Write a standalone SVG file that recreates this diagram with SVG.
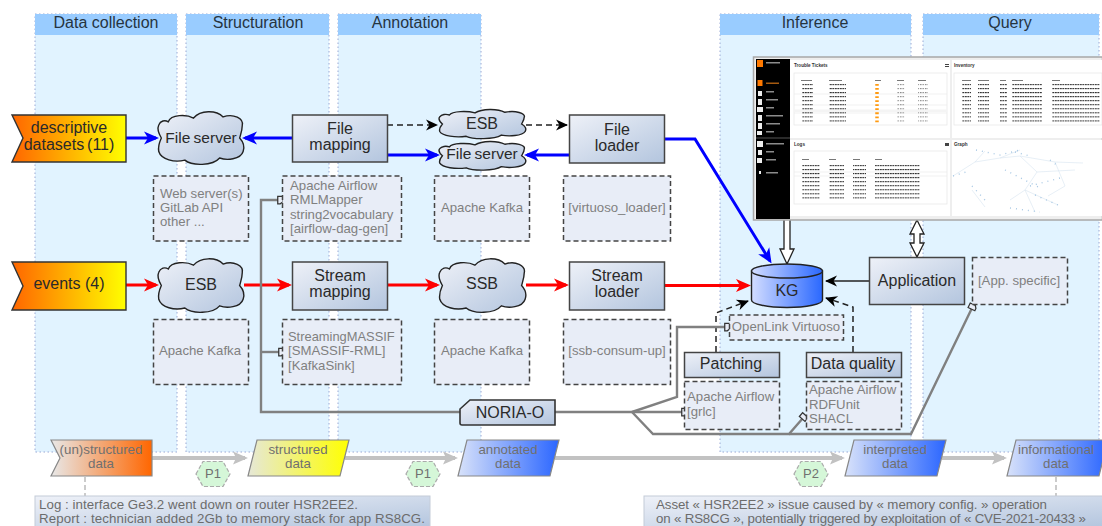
<svg xmlns="http://www.w3.org/2000/svg" width="1102" height="526" viewBox="0 0 1102 526">
<style>
text{font-family:"Liberation Sans",Arial,sans-serif;text-anchor:middle}
.lane{fill:#e1f3ff;stroke:#9aa8d4;stroke-width:1;stroke-dasharray:1.5 2.5}
.lh{fill:#99ccff}
.lt{font-size:16px;fill:#26343f}
.box{fill:url(#gb);stroke:#444;stroke-width:1.5}
.cloud{fill:url(#gb);stroke:#222;stroke-width:1.4;vector-effect:non-scaling-stroke}
.nt{font-size:16px;fill:#2a2a2a}
.nt.ws{font-size:15.5px;word-spacing:-1px}
.dash{fill:#e8edf7;stroke:#444;stroke-width:1.5;stroke-dasharray:5 3}
.dt{font-size:13.2px;fill:#808080}
.l{text-anchor:start}
.src{fill:url(#go);stroke:#333;stroke-width:1.4}
.data{stroke:#888;stroke-width:1.2}
.ddt{font-size:13.3px;fill:#707070}
.note{fill:url(#gb);stroke:#c4ccd8;stroke-width:1}
.ntxt{font-size:13.3px;fill:#6c6c6c;text-anchor:start}
.p{fill:#d5f7d8;stroke:#aaa;stroke-width:1.2;stroke-dasharray:4 2}
.c{fill:none}
.blue{stroke:#0000ff;stroke-width:3}
.red{stroke:#ff0000;stroke-width:3}
.blk{stroke:#222;stroke-width:1.5}
.gr{stroke:#808080;stroke-width:2.4}
.fl{stroke:#c2c2c2;stroke-width:4}
.lk{stroke:#bbb;stroke-width:1.5;stroke-dasharray:5 3}
.h{font-size:4.6px;fill:#333;text-anchor:start;font-weight:bold}
.side{fill:#8c8c8c}
.ic{fill:#eee}
.pn{fill:#fff}
.card{fill:#fff;stroke:#e8e8e8;stroke-width:.8}
.gl{fill:none;stroke:#d6e4f0;stroke-width:.6}
.gd{fill:none;stroke:#a8c8e4;stroke-width:1.4;stroke-dasharray:1 5}
.txt{fill:url(#pt)}
.txl{fill:url(#pl)}
</style>
<defs>
<linearGradient id="gb" x1="0" y1="0" x2="1" y2="1"><stop offset="0" stop-color="#eef1f8"/><stop offset="1" stop-color="#b3c5de"/></linearGradient>
<linearGradient id="go" x1="0" y1="0" x2="1" y2="0"><stop offset="0" stop-color="#ff6600"/><stop offset="1" stop-color="#ffff00"/></linearGradient>
<linearGradient id="gu" x1="0" y1="0" x2="1" y2="0"><stop offset="0" stop-color="#e8e8e8"/><stop offset="1" stop-color="#ff6600"/></linearGradient>
<linearGradient id="gy" x1="0" y1="0" x2="1" y2="0"><stop offset="0" stop-color="#e6e8d8"/><stop offset="1" stop-color="#ffff00"/></linearGradient>
<linearGradient id="gbl" x1="0" y1="0" x2="1" y2="0"><stop offset="0" stop-color="#d8e2fa"/><stop offset="1" stop-color="#2b66ff"/></linearGradient>
<linearGradient id="gkg" x1="0" y1="0" x2="1" y2="0"><stop offset="0" stop-color="#d3ddff"/><stop offset="1" stop-color="#2a68ff"/></linearGradient>
<pattern id="pt" patternUnits="userSpaceOnUse" x="0" y="84" width="2.500" height="4.050"><rect width="1.900" height="1" fill="#333"/></pattern>
<pattern id="pl" patternUnits="userSpaceOnUse" x="0" y="84" width="2.500" height="4.050"><rect width="1.500" height="1" fill="#888"/></pattern>
<path id="cl" class="cloud" d="M13 20C16 6 34 6 42 13C50-2 68-2 76 11C88 4 100 14 98 27C98 36 96 44 95 50C99 57 101 66 99 75C96 90 80 92 72 87C64 102 40 102 32 91C20 96 5 90 2 75C1 66 3 57 5 50C2 42 0 33 2 26C4 18 9 16 13 20Z"/>
<marker id="mb" markerUnits="userSpaceOnUse" markerWidth="18" markerHeight="16" viewBox="0 -8 16 16" refX="12" refY="0" orient="auto"><path d="M0-6.500L15 0L0 6.500L4 0Z" fill="#0000ff"/></marker>
<marker id="mr" markerUnits="userSpaceOnUse" markerWidth="18" markerHeight="16" viewBox="0 -8 16 16" refX="12" refY="0" orient="auto"><path d="M0-6.500L15 0L0 6.500L4 0Z" fill="#ff0000"/></marker>
<marker id="mk" markerUnits="userSpaceOnUse" markerWidth="16" markerHeight="14" viewBox="0 -7 14 14" refX="11" refY="0" orient="auto"><path d="M0-5.500L12 0L0 5.500L3.500 0Z" fill="#000"/></marker>
<marker id="mg" markerUnits="userSpaceOnUse" markerWidth="18" markerHeight="16" viewBox="0 -8 16 16" refX="12" refY="0" orient="auto"><path d="M0-6.500L15 0L0 6.500L3 0Z" fill="#c2c2c2"/></marker>
<marker id="mt" markerUnits="userSpaceOnUse" markerWidth="10" markerHeight="10" viewBox="-1 -4 7 8" refX="1" refY="0" orient="auto"><path d="M0-3H4V1.500L2 3H0Z" fill="#e8edf7" stroke="#333" stroke-width="1"/></marker>
</defs>

<g id="lanes">
<g id="lane-collection"><rect class="lane" x="35" y="14" width="142" height="438"/><rect class="lh" x="35" y="14" width="142" height="21"/><text class="lt" x="106" y="28">Data collection</text></g>
<g id="lane-structuration"><rect class="lane" x="186" y="14" width="143" height="438"/><rect class="lh" x="186" y="14" width="143" height="21"/><text class="lt" x="258" y="28">Structuration</text></g>
<g id="lane-annotation"><rect class="lane" x="338" y="14" width="143" height="438"/><rect class="lh" x="338" y="14" width="143" height="21"/><text class="lt" x="410" y="28">Annotation</text></g>
<g id="lane-inference"><rect class="lane" x="720" y="14" width="191" height="438"/><rect class="lh" x="720" y="14" width="191" height="21"/><text class="lt" x="815" y="28">Inference</text></g>
<g id="lane-query"><rect class="lane" x="923" y="14" width="176" height="438"/><rect class="lh" x="923" y="14" width="176" height="21"/><text class="lt" x="1010" y="28">Query</text></g>
</g>

<g id="connectors">
<path class="c fl" d="M152 458H245" marker-end="url(#mg)"/>
<path class="c fl" d="M345 458H455" marker-end="url(#mg)"/>
<path class="c fl" d="M555 458H842" marker-end="url(#mg)"/>
<path class="c fl" d="M942 458H1004" marker-end="url(#mg)"/>
<path class="c lk" d="M85 477V496"/>
<path class="c lk" d="M1056 477V496"/>
<path class="c blue" d="M126 138H156" marker-end="url(#mb)"/>
<path class="c blue" d="M292 138H245" marker-end="url(#mb)"/>
<path class="c blue" d="M387 155H437" marker-end="url(#mb)"/>
<path class="c blue" d="M569 155H527" marker-end="url(#mb)"/>
<path class="c blue" d="M665 139H695L770 261" marker-end="url(#mb)"/>
<path class="c blk" d="M387 125H437" stroke-dasharray="6 4" marker-end="url(#mk)"/>
<path class="c blk" d="M526 125H567" stroke-dasharray="6 4" marker-end="url(#mk)"/>
<path class="c red" d="M126 285H156" marker-end="url(#mr)"/>
<path class="c red" d="M244 285H289" marker-end="url(#mr)"/>
<path class="c red" d="M387 285H437" marker-end="url(#mr)"/>
<path class="c red" d="M526 285H566" marker-end="url(#mr)"/>
<path class="c red" d="M665 285.500H748" marker-end="url(#mr)"/>
<path class="c blk" d="M869 281H826" marker-end="url(#mk)"/>
<path class="c blk" d="M716 352V313L748 301" stroke-dasharray="6 4" marker-end="url(#mk)"/>
<path class="c blk" d="M853 352V307L826 298" stroke-dasharray="6 4" marker-end="url(#mk)"/>
<path class="c gr" d="M460 412H261V200H279" marker-end="url(#mt)"/>
<path class="c gr" d="M261 352H280" marker-end="url(#mt)"/>
<path class="c gr" d="M555 412H683" marker-end="url(#mt)"/>
<path class="c gr" d="M632 412L677 397V327H726" marker-end="url(#mt)"/>
<path class="c gr" d="M632 412L653 434H789L803 418" marker-end="url(#mt)"/>
<path class="c gr" d="M789 434H911L972 308" marker-end="url(#mt)"/>
<path d="M784 219V249H780L787 264L794 249H790V219Z" fill="#fff" stroke="#222" stroke-width="1.300"/>
<path d="M917 220L924 234H920V243H924L917 257L910 243H914V234H910Z" fill="#fff" stroke="#222" stroke-width="1.300"/>
</g>

<g id="screenshot">
<rect x="753.500" y="57" width="349" height="163" fill="#eee" stroke="#a8a8a8" stroke-width="1.500"/>
<rect x="756" y="59" width="34" height="160" fill="#000"/>
<rect x="790" y="60" width="160" height="78" class="pn"/>
<rect x="952" y="60" width="150" height="78" class="pn"/>
<rect x="790" y="140" width="160" height="76" class="pn"/>
<rect x="952" y="140" width="150" height="76" class="pn"/>
<rect x="794" y="73" width="153" height="52" class="card"/>
<rect x="954" y="73" width="148" height="52" class="card"/>
<rect x="794" y="151" width="153" height="53" class="card"/>
<rect x="757" y="60" width="6" height="7" fill="#ff7900"/>
<rect x="766" y="62" width="14" height="1.500" class="side"/>
<rect x="757.500" y="80" width="5" height="6" fill="#ff7900"/>
<rect x="766" y="82.500" width="13" height="1.500" fill="#a55a10"/>
<path class="ic" d="M758 91h4v5h-4zM758 99h4v6h-4zM757 107h6v5h-6zM758 115h4v6h-4zM758 123h4v6h-4zM757 131h5v4h-5zM757 141h6v6h-6zM758 150h4v5h-4zM757 158h5v5h-5zM759 171h2v3h-2z"/>
<path class="side" d="M766 91h8v1.500h-8zM766 99h12v1.500h-12zM766 107h8v1.500h-8zM766 115h17v1.500h-17zM766 123h14v1.500h-14zM766 131h8v1.500h-8zM766 143h18v1.500h-18zM766 151h8v1.500h-8zM766 159h10v1.500h-10zM766 172h12v1.500h-12z"/>
<path d="M756 138H790" stroke="#555" stroke-width="1"/>
<text class="h" x="794" y="67">Trouble Tickets</text>
<text class="h" x="954" y="67">Inventory</text>
<text class="h" x="794" y="146">Logs</text>
<text class="h" x="954" y="146">Graph</text>
<path d="M945 64h4v1h-4zM945 66h4v1h-4zM945 143h4v3h-4z" fill="#444"/>
<path d="M794 94H947M794 105H947M794 113H947M794 172H947M794 176H947" stroke="#eee" stroke-width=".8"/>
<rect x="794" y="109.500" width="153" height="2.500" fill="#f4f4f4"/>
<g id="rows-tickets">
<rect class="txt" x="802" y="84" width="11" height="40"/>
<rect class="txt" x="829" y="84" width="17" height="40"/>
<path stroke="#ff9a10" fill="none" stroke-width="3.500" stroke-dasharray="1.800 2.250" d="M877 84V124"/>
<rect class="txl" x="897" y="84" width="8" height="40"/>
<rect class="txl" x="918" y="84" width="10" height="40"/>
<path stroke="#555" stroke-width=".8" d="M801 80.500h11M829 80.500h13M875 80.500h6M897 80.500h7M918 80.500h8"/>
</g>
<g id="rows-inventory">
<rect class="txt" x="962" y="84" width="9" height="40"/>
<rect class="txt" x="978" y="84" width="11" height="40"/>
<rect class="txt" x="1000" y="84" width="7" height="40"/>
<rect class="txt" x="1012" y="84" width="30" height="40"/>
<rect class="txt" x="1052" y="84" width="48" height="40"/>
<path stroke="#555" stroke-width=".8" d="M962 80.500h9M978 80.500h11M1000 80.500h6M1012 80.500h11M1052 80.500h8"/>
</g>
<g id="rows-logs">
<rect class="txt" x="802" y="163" width="18" height="37"/>
<rect class="txt" x="829" y="163" width="15" height="37"/>
<rect class="txt" x="853" y="163" width="13" height="37"/>
<rect class="txt" x="875" y="163" width="45" height="37"/>
<path stroke="#555" stroke-width=".8" d="M802 159.500h7M829 159.500h7M853 159.500h7M875 159.500h7"/>
</g>
<path class="gl" d="M953 176L975 162L1000 158L1020 156L1055 162L1083 163M975 162L985 151M1000 158L1020 150M1020 156L1037 172L1025 190L1010 200M1037 172L1075 170M1025 190L1058 205M1025 190L1035 212M972 190L985 207M1055 162L1065 186L1048 196"/>
<path class="gd" d="M976 150L1000 155L1020 150M1015 152L1030 156M953 176L966 172M972 186L985 200M1005 170L1040 188M1030 186L1060 178M1035 195L1058 205M1010 208L1040 212M1050 160L1058 166"/>
</g>

<g id="n-descriptive"><path class="src" d="M12 115H126V162H12L23 138Z"/><text class="nt" x="69" y="133">descriptive</text><text class="nt" x="69" y="150" style="word-spacing:-1.500px">datasets (11)</text></g>
<g id="n-events"><path class="src" d="M12 262H126V310H12L23 286Z"/><text class="nt" x="69" y="289">events (4)</text></g>
<g id="n-fileserver1"><use href="#cl" transform="translate(157 111) scale(.87 .54)"/><text class="nt ws" x="201" y="143">File server</text></g>
<g id="n-esb1"><use href="#cl" transform="translate(157 258) scale(.87 .55)"/><text class="nt" x="201" y="290">ESB</text></g>
<g id="n-filemapping"><rect class="box" x="292.500" y="115" width="95" height="47"/><text class="nt" x="340" y="134">File</text><text class="nt" x="340" y="150">mapping</text></g>
<g id="n-streammapping"><rect class="box" x="292.500" y="262" width="95" height="48"/><text class="nt" x="340" y="281">Stream</text><text class="nt" x="340" y="297">mapping</text></g>
<g id="n-esb2"><use href="#cl" transform="translate(438 109) scale(.88 .30)"/><text class="nt" x="482" y="129">ESB</text></g>
<g id="n-fileserver2"><use href="#cl" transform="translate(438 141) scale(.88 .295)"/><text class="nt ws" x="482" y="159">File server</text></g>
<g id="n-ssb"><use href="#cl" transform="translate(438 258) scale(.88 .55)"/><text class="nt" x="482" y="289">SSB</text></g>
<g id="n-fileloader"><rect class="box" x="569.500" y="115" width="95" height="48"/><text class="nt" x="617" y="135">File</text><text class="nt" x="617" y="151">loader</text></g>
<g id="n-streamloader"><rect class="box" x="569.500" y="262" width="95" height="48"/><text class="nt" x="617" y="281">Stream</text><text class="nt" x="617" y="297">loader</text></g>

<g id="n-t-web"><rect class="dash" x="153.500" y="176" width="95" height="65"/><text class="dt l" x="160" y="198">Web server(s)</text><text class="dt l" x="160" y="212">GitLab API</text><text class="dt l" x="160" y="226">other ...</text></g>
<g id="n-t-airflow"><rect class="dash" x="282.500" y="176" width="119" height="65"/><text class="dt l" x="290" y="190">Apache Airflow</text><text class="dt l" x="290" y="204">RMLMapper</text><text class="dt l" x="290" y="219">string2vocabulary</text><text class="dt l" x="290" y="233">[airflow-dag-gen]</text></g>
<g id="n-t-kafka1"><rect class="dash" x="434.500" y="176" width="95" height="65"/><text class="dt" x="482" y="212">Apache Kafka</text></g>
<g id="n-t-virtuoso"><rect class="dash" x="563.500" y="176" width="107" height="65"/><text class="dt" x="617" y="212">[virtuoso_loader]</text></g>
<g id="n-t-kafka2"><rect class="dash" x="153.500" y="319.500" width="95" height="65"/><text class="dt" x="200" y="355">Apache Kafka</text></g>
<g id="n-t-massif"><rect class="dash" x="282.500" y="319.500" width="119" height="65"/><text class="dt l" x="288" y="341" style="font-size:12.900px">StreamingMASSIF</text><text class="dt l" x="288" y="355">[SMASSIF-RML]</text><text class="dt l" x="288" y="370">[KafkaSink]</text></g>
<g id="n-t-kafka3"><rect class="dash" x="434.500" y="319.500" width="95" height="65"/><text class="dt" x="482" y="355">Apache Kafka</text></g>
<g id="n-t-ssb"><rect class="dash" x="563.500" y="319.500" width="107" height="65"/><text class="dt" x="617" y="355">[ssb-consum-up]</text></g>

<g id="n-kg"><path d="M751.500 271V300C751.500 304 767 307.500 787 307.500S822.500 304 822.500 300V271Z" fill="url(#gkg)" stroke="#222" stroke-width="1.400"/><ellipse cx="787" cy="271" rx="35.500" ry="7" fill="url(#gkg)" stroke="#222" stroke-width="1.400"/><text class="nt" x="787" y="296">KG</text></g>
<g id="n-openlink"><rect class="dash" x="729.500" y="315" width="114" height="25"/><text class="dt" x="786" y="331">OpenLink Virtuoso</text></g>
<g id="n-patching"><rect class="box" x="684.500" y="352.500" width="95" height="25"/><text class="nt" x="731" y="369">Patching</text></g>
<g id="n-dq"><rect class="box" x="806.500" y="352.500" width="95" height="25"/><text class="nt" x="853" y="369">Data quality</text></g>
<g id="n-t-grlc"><rect class="dash" x="684.500" y="381.500" width="95" height="48"/><text class="dt l" x="687" y="401">Apache Airflow</text><text class="dt l" x="687" y="416">[grlc]</text></g>
<g id="n-t-dq"><rect class="dash" x="806.500" y="381.500" width="95" height="48"/><text class="dt l" x="809" y="394">Apache Airflow</text><text class="dt l" x="809" y="409">RDFUnit</text><text class="dt l" x="809" y="423">SHACL</text></g>
<g id="n-application"><rect class="box" x="869.500" y="257.500" width="95" height="47"/><text class="nt" x="917" y="286">Application</text></g>
<g id="n-t-app"><rect class="dash" x="972.500" y="257.500" width="95" height="47"/><text class="dt" x="1019" y="285">[App. specific]</text></g>
<g id="n-noria"><path d="M460 409L470 400H555V425H462Q460 425 460 423Z" fill="url(#gb)" stroke="#333" stroke-width="1.600"/><text class="nt" x="510" y="418">NORIA-O</text></g>

<g id="n-d-unstructured"><path class="data" fill="url(#gu)" d="M51 440H152V476H51L60 458Z"/><text class="ddt" x="101" y="454">(un)structured</text><text class="ddt" x="101" y="468">data</text></g>
<g id="n-d-structured"><path class="data" fill="url(#gy)" d="M257 440H349L340 476H248Z"/><text class="ddt" x="298" y="454">structured</text><text class="ddt" x="298" y="468">data</text></g>
<g id="n-d-annotated"><path class="data" fill="url(#gbl)" d="M467 440H559L550 476H458Z"/><text class="ddt" x="508" y="454">annotated</text><text class="ddt" x="508" y="468">data</text></g>
<g id="n-d-interpreted"><path class="data" fill="url(#gbl)" d="M854 440H946L937 476H845Z"/><text class="ddt" x="895" y="454">interpreted</text><text class="ddt" x="895" y="468">data</text></g>
<g id="n-d-informational"><path class="data" fill="url(#gbl)" d="M1016 440H1108L1099 476H1007Z"/><text class="ddt" x="1056" y="454">informational</text><text class="ddt" x="1056" y="468">data</text></g>

<g id="n-p1a"><path class="p" d="M196 474L203 461.500H223L230 474L223 486.500H203Z"/><text class="ddt" x="213" y="478" style="font-size:13px">P1</text></g>
<g id="n-p1b"><path class="p" d="M406 474L413 461.500H433L440 474L433 486.500H413Z"/><text class="ddt" x="423" y="478" style="font-size:13px">P1</text></g>
<g id="n-p2"><path class="p" d="M794 474L801 461.500H821L828 474L821 486.500H801Z"/><text class="ddt" x="811" y="478" style="font-size:13px">P2</text></g>

<g id="n-note1"><rect class="note" x="35" y="496" width="395" height="32"/><text class="ntxt" x="39" y="509" textLength="319">Log : interface Ge3.2 went down on router HSR2EE2.</text><text class="ntxt" x="39" y="523" textLength="386">Report : technician added 2Gb to memory stack for app RS8CG.</text></g>
<g id="n-note2"><rect class="note" x="644" y="496" width="460" height="32"/><text class="ntxt" x="656" y="509" textLength="391">Asset « HSR2EE2 » issue caused by « memory config. » operation</text><text class="ntxt" x="656" y="523" textLength="430">on « RS8CG », potentially triggered by exploitation of « CVE-2021-20433 »</text></g>
</svg>
